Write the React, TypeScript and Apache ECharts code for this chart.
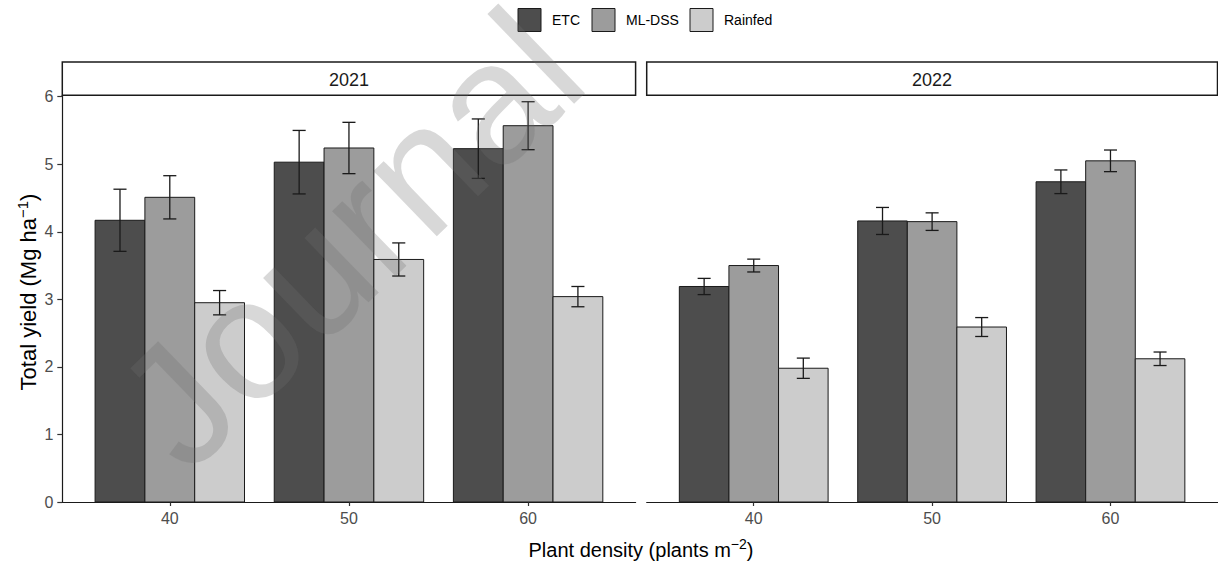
import React, { useEffect, useRef } from "react";
import * as echarts from "echarts";

// ---------- data ----------
const densities = ["40", "50", "60"];
const years = ["2021", "2022"];
const treatments = ["ETC", "ML-DSS", "Rainfed"];
const fills = ["#4d4d4d", "#9c9c9c", "#cccccc"];
const yTicks = [0, 1, 2, 3, 4, 5, 6];

const yield2021ETC = [4.17, 5.03, 5.23];
const err2021ETC = [0.46, 0.47, 0.44];
const yield2021MLDSS = [4.51, 5.24, 5.57];
const err2021MLDSS = [0.32, 0.38, 0.355];
const yield2021Rainfed = [2.95, 3.59, 3.04];
const err2021Rainfed = [0.18, 0.245, 0.15];

const yield2022ETC = [3.19, 4.16, 4.74];
const err2022ETC = [0.12, 0.2, 0.175];
const yield2022MLDSS = [3.5, 4.15, 5.05];
const err2022MLDSS = [0.095, 0.13, 0.16];
const yield2022Rainfed = [1.98, 2.59, 2.12];
const err2022Rainfed = [0.15, 0.14, 0.1];

const FONT = "'Liberation Sans', Arial, Helvetica, sans-serif";
const BAR_W = 0.278;
const CAP_W = 0.073;
const INK = "#1a1a1a";

function makeSeries(tIdx: number, yIdx: number, values: number[], errs: number[]) {
  return {
    type: "custom",
    name: treatments[tIdx],
    xAxisIndex: yIdx,
    yAxisIndex: yIdx,
    itemStyle: { color: fills[tIdx] },
    z: 2,
    data: values.map((v, i) => [i + 1, v, errs[i]]),
    renderItem: (params: any, api: any) => {
      const pos = api.value(0);
      const v = api.value(1);
      const e = api.value(2);
      const c = pos + (tIdx - 1) * BAR_W;
      const tl = api.coord([c - BAR_W / 2, v]);
      const br = api.coord([c + BAR_W / 2, 0]);
      const top = api.coord([c, v + e]);
      const bot = api.coord([c, v - e]);
      const cl = api.coord([c - CAP_W / 2, 0])[0];
      const cr = api.coord([c + CAP_W / 2, 0])[0];
      return {
        type: "group",
        children: [
          {
            type: "rect",
            shape: { x: tl[0], y: tl[1], width: br[0] - tl[0], height: br[1] - tl[1] },
            style: { fill: fills[tIdx], stroke: INK, lineWidth: 1 },
          },
          {
            type: "line",
            shape: { x1: top[0], y1: top[1], x2: bot[0], y2: bot[1] },
            style: { stroke: INK, lineWidth: 1.3 },
          },
          {
            type: "line",
            shape: { x1: cl, y1: top[1], x2: cr, y2: top[1] },
            style: { stroke: INK, lineWidth: 1.3 },
          },
          {
            type: "line",
            shape: { x1: cl, y1: bot[1], x2: cr, y2: bot[1] },
            style: { stroke: INK, lineWidth: 1.3 },
          },
        ],
      };
    },
  };
}

const PANEL_TOP = 95.3;
const PANEL_BOTTOM = 502;
const panels = [
  { left: 62.3, width: 573.3 },
  { left: 646.7, width: 570.8 },
];
const STRIP_TOP = 62;

export default function App() {
  const ref = useRef<HTMLDivElement>(null);
  useEffect(() => {
    if (!ref.current) return;
    const chart = echarts.init(ref.current, null, { renderer: "svg" });

    const grids = panels.map((p) => ({
      left: p.left,
      width: p.width,
      top: PANEL_TOP,
      height: PANEL_BOTTOM - PANEL_TOP,
      containLabel: false,
    }));

    const xAxes = panels.map((_, i) => ({
      type: "value",
      gridIndex: i,
      min: 0.4,
      max: 3.6,
      axisLine: { show: true, onZero: false, lineStyle: { color: INK, width: 1.2 } },
      axisTick: { show: true, customValues: [1, 2, 3], length: 4, lineStyle: { color: "#333", width: 1.2 } },
      axisLabel: {
        show: true,
        customValues: [1, 2, 3],
        formatter: (v: number) => densities[Math.round(v) - 1],
        color: "#4d4d4d",
        fontSize: 16,
        fontFamily: FONT,
        margin: 8,
      },
      splitLine: { show: false },
    }));

    const yAxes = panels.map((_, i) => ({
      type: "value",
      gridIndex: i,
      min: 0,
      max: 6.02,
      show: i === 0,
      axisLine: { show: i === 0, lineStyle: { color: INK, width: 1.2 } },
      axisTick: { show: i === 0, customValues: yTicks, length: 5, lineStyle: { color: "#333", width: 1.2 } },
      axisLabel: {
        show: i === 0,
        customValues: yTicks,
        color: "#4d4d4d",
        fontSize: 16,
        fontFamily: FONT,
        margin: 9,
      },
      splitLine: { show: false },
    }));

    const series = [
      makeSeries(0, 0, yield2021ETC, err2021ETC),
      makeSeries(1, 0, yield2021MLDSS, err2021MLDSS),
      makeSeries(2, 0, yield2021Rainfed, err2021Rainfed),
      makeSeries(0, 1, yield2022ETC, err2022ETC),
      makeSeries(1, 1, yield2022MLDSS, err2022MLDSS),
      makeSeries(2, 1, yield2022Rainfed, err2022Rainfed),
    ];

    const strips: any[] = [];
    panels.forEach((p, i) => {
      strips.push({
        type: "rect",
        shape: { x: p.left, y: STRIP_TOP, width: p.width, height: PANEL_TOP - STRIP_TOP },
        style: { fill: "#ffffff", stroke: INK, lineWidth: 1.5 },
        z: 5,
      });
      strips.push({
        type: "text",
        x: p.left + p.width / 2,
        y: (STRIP_TOP + PANEL_TOP) / 2 + 1,
        style: {
          text: years[i],
          fontSize: 18,
          fontFamily: FONT,
          fill: INK,
          align: "center",
          verticalAlign: "middle",
        },
        z: 6,
      });
    });

    const legendKeyX = [518, 592, 690];
    const legend: any[] = [];
    treatments.forEach((t, i) => {
      legend.push({
        type: "rect",
        shape: { x: legendKeyX[i], y: 8.5, width: 23, height: 23 },
        style: { fill: fills[i], stroke: INK, lineWidth: 1 },
        z: 5,
      });
      legend.push({
        type: "text",
        x: legendKeyX[i] + 34,
        y: 20,
        style: {
          text: t,
          fontSize: 14,
          fontFamily: FONT,
          fill: "#000",
          align: "left",
          verticalAlign: "middle",
        },
        z: 5,
      });
    });

    const titles = [
      {
        type: "text",
        x: 641,
        y: 548,
        style: {
          text: "{a|Plant density (plants m}{s|−2}{a|)}",
          align: "center",
          verticalAlign: "middle",
          rich: {
            a: { fontSize: 20, fontFamily: FONT, fill: "#000", lineHeight: 23, verticalAlign: "bottom" },
            s: { fontSize: 14, fontFamily: FONT, fill: "#000", lineHeight: 12, verticalAlign: "top" },
          },
        },
        z: 5,
      },
      {
        type: "text",
        x: 27,
        y: 292,
        rotation: Math.PI / 2,
        style: {
          text: "{a|Total yield (Mg ha}{s|−1}{a|)}",
          align: "center",
          verticalAlign: "middle",
          rich: {
            a: { fontSize: 22, fontFamily: FONT, fill: "#000", lineHeight: 25, verticalAlign: "bottom" },
            s: { fontSize: 15, fontFamily: FONT, fill: "#000", lineHeight: 13, verticalAlign: "top" },
          },
        },
        z: 5,
      },
    ];

    const watermark = {
      type: "text",
      x: 146,
      y: 434,
      rotation: (44 * Math.PI) / 180,
      silent: true,
      z: 100,
      style: {
        text: "Journal",
        fontSize: 172,
        fontFamily: FONT,
        fill: "rgba(110,110,110,0.27)",
        align: "left",
        verticalAlign: "middle",
      },
    };

    chart.setOption({
      animation: false,
      backgroundColor: "#ffffff",
      grid: grids,
      xAxis: xAxes,
      yAxis: yAxes,
      series,
      graphic: [...strips, ...legend, ...titles, watermark],
    });

    return () => chart.dispose();
  }, []);

  return (
    <div
      ref={ref}
      style={{ position: "fixed", left: 0, top: 0, width: 1218, height: 562, background: "#fff" }}
    />
  );
}
